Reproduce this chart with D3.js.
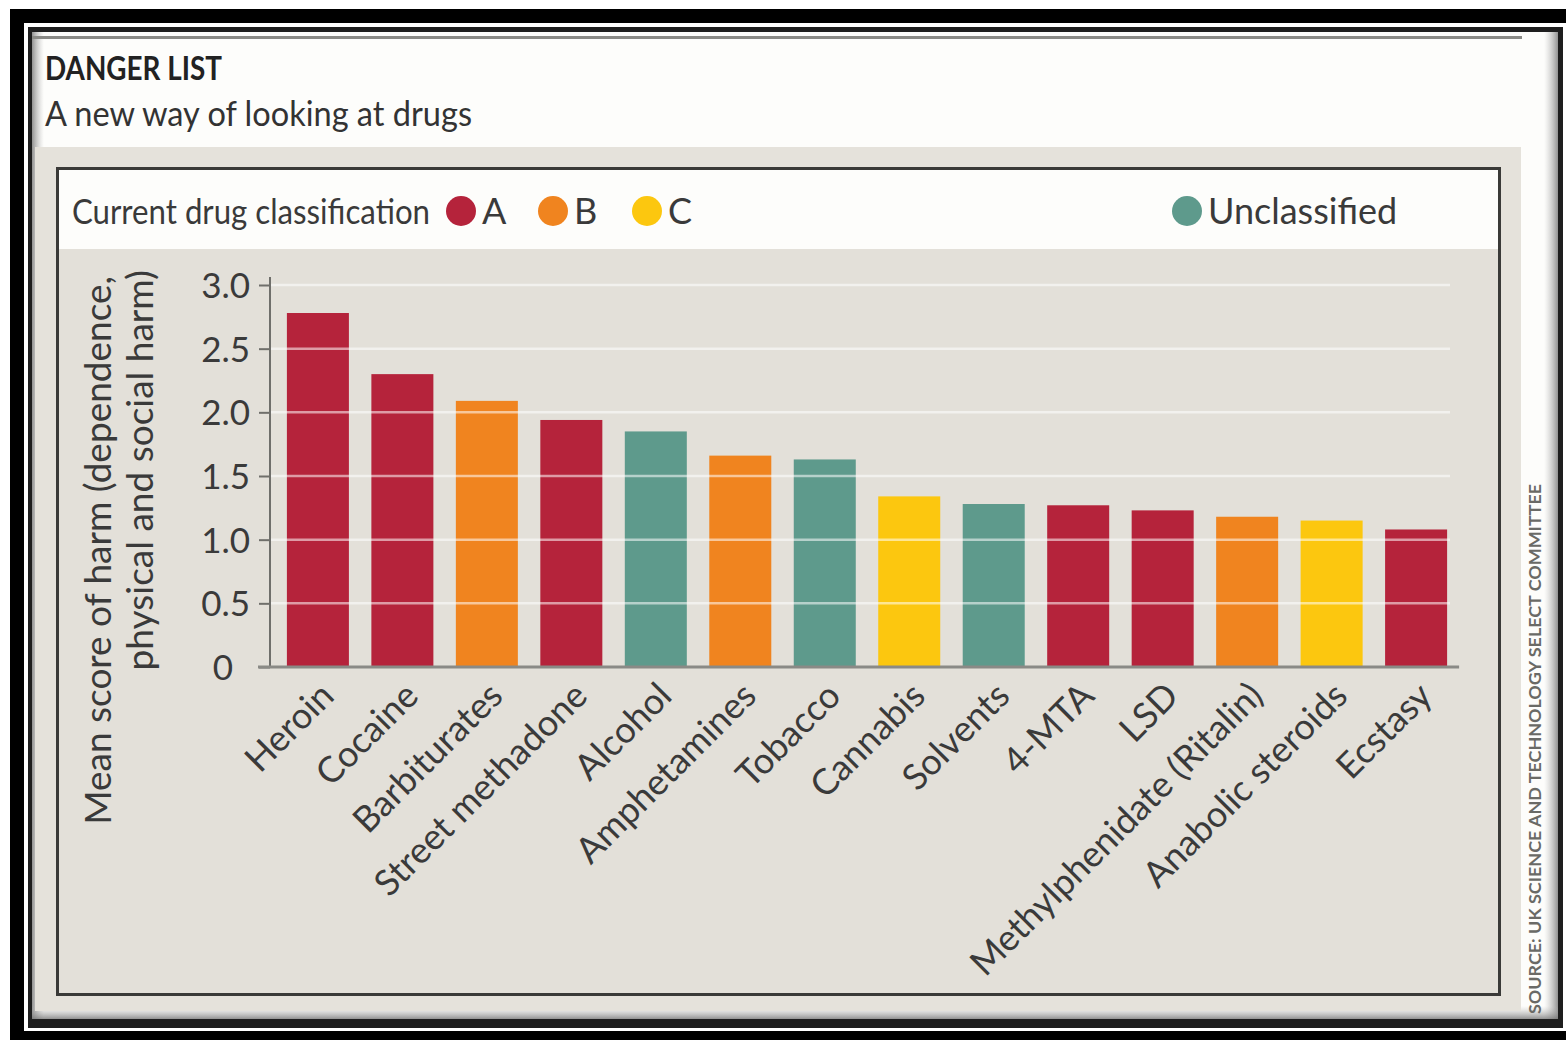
<!DOCTYPE html>
<html>
<head>
<meta charset="utf-8">
<script src="https://cdn.jsdelivr.net/npm/d3@7"></script>
<style>
  body { margin: 0; background: #fff; }
  svg { display: block; }
  text { font-family: Lato, "Open Sans", sans-serif; fill: #383838; }
</style>
</head>
<body>
<svg width="1566" height="1040"></svg>
<script>
// values
var drugs = ["Heroin", "Cocaine", "Barbiturates", "Street methadone", "Alcohol", "Amphetamines",
    "Tobacco", "Cannabis", "Solvents", "4-MTA", "LSD", "Methylphenidate (Ritalin)",
    "Anabolic steroids", "Ecstasy"];
var harm = [2.78, 2.30, 2.09, 1.94, 1.85, 1.66, 1.63, 1.34, 1.28, 1.27, 1.23, 1.18, 1.15, 1.08];
var drugClass = ["A", "A", "B", "A", "U", "B", "U", "C", "U", "A", "A", "B", "C", "A"];
var legendKeys = ["A", "B", "C", "U"];
var legendLabels = ["A", "B", "C", "Unclassified"];
var yTicks = [0, 0.5, 1, 1.5, 2, 2.5, 3];

var color = d3.scaleOrdinal()
    .domain(legendKeys)
    .range(["#b5233b", "#f0841f", "#fcc70f", "#5e9a8c"]);

var svg = d3.select("svg");

// ---- frame and panels ----
svg.append("rect").attr("x", 10).attr("y", 9).attr("width", 1556).attr("height", 1031).attr("fill", "#000");
svg.append("rect").attr("x", 24).attr("y", 23).attr("width", 1542).attr("height", 1008).attr("fill", "#fff");
svg.append("rect").attr("x", 28).attr("y", 27).attr("width", 1535).attr("height", 1001).attr("fill", "#1e1e1e");
svg.append("rect").attr("x", 32).attr("y", 32).attr("width", 1526).attr("height", 987).attr("fill", "#fdfdfb");

var defs = svg.append("defs");
function grad(id, x1, y1, x2, y2) {
    var gr = defs.append("linearGradient").attr("id", id)
        .attr("x1", x1).attr("y1", y1).attr("x2", x2).attr("y2", y2);
    gr.append("stop").attr("offset", "0%").attr("stop-color", "#777").attr("stop-opacity", 0.8);
    gr.append("stop").attr("offset", "100%").attr("stop-color", "#bbb").attr("stop-opacity", 0);
}
grad("shL", "0", "0", "1", "0");
grad("shR", "1", "0", "0", "0");
grad("shB", "0", "1", "0", "0");
svg.append("rect").attr("x", 32).attr("y", 32).attr("width", 12).attr("height", 987).attr("fill", "url(#shL)");
svg.append("rect").attr("x", 1544).attr("y", 32).attr("width", 14).attr("height", 987).attr("fill", "url(#shR)");
svg.append("rect").attr("x", 32).attr("y", 1006).attr("width", 1526).attr("height", 13).attr("fill", "url(#shB)");
svg.append("line").attr("x1", 32).attr("x2", 1522).attr("y1", 37.5).attr("y2", 37.5)
    .attr("stroke", "#8a8a86").attr("stroke-width", 3);

// title
svg.append("text").attr("x", 45).attr("y", 80)
    .attr("font-size", 33).attr("font-weight", "bold").style("fill", "#222")
    .attr("textLength", 177).attr("lengthAdjust", "spacingAndGlyphs")
    .text("DANGER LIST");
svg.append("text").attr("x", 45).attr("y", 126)
    .attr("font-size", 34).style("fill", "#333")
    .attr("textLength", 427).attr("lengthAdjust", "spacingAndGlyphs")
    .text("A new way of looking at drugs");

// grey band and inner frame
svg.append("rect").attr("x", 35).attr("y", 147).attr("width", 1486).attr("height", 864).attr("fill", "#e5e2db");
svg.append("rect").attr("x", 57.5).attr("y", 168.5).attr("width", 1442).attr("height", 826)
    .attr("fill", "#e3e0d9").attr("stroke", "#3a3a38").attr("stroke-width", 3);
svg.append("rect").attr("x", 59).attr("y", 170).attr("width", 1439).attr("height", 79).attr("fill", "#fdfdfb");

// source
svg.append("text")
    .attr("transform", "translate(1541,1014) rotate(-90)")
    .attr("font-size", 17).attr("font-weight", "bold").style("fill", "#6a6a66")
    .attr("textLength", 530).attr("lengthAdjust", "spacingAndGlyphs")
    .text("SOURCE: UK SCIENCE AND TECHNOLOGY SELECT COMMITTEE");

// ---- legend ----
var legend = svg.append("g");
legend.append("text").attr("x", 72).attr("y", 224)
    .attr("font-size", 35).style("fill", "#3a3a3a")
    .attr("textLength", 358).attr("lengthAdjust", "spacingAndGlyphs")
    .text("Current drug classification");
var legendX = [461, 553, 647, 1187];
var legendItem = legend.selectAll(".item")
    .data(legendKeys)
    .enter().append("g")
    .attr("class", "item")
    .attr("transform", function (d, i) { return "translate(" + legendX[i] + ",211)"; });
legendItem.append("circle").attr("r", 15).attr("fill", function (d) { return color(d); });
legendItem.append("text")
    .attr("x", 21).attr("y", 13)
    .attr("font-size", 36).style("fill", "#3a3a3a")
    .text(function (d, i) { return legendLabels[i]; });

// ---- chart ----
var x = d3.scaleBand()
    .domain(drugs)
    .range([270, 1464])
    .paddingInner(0.266)
    .paddingOuter(0.2);

var y = d3.scaleLinear()
    .domain([0, 3])
    .range([667, 285]);

var chart = svg.append("g");

chart.selectAll(".bar")
    .data(harm)
    .enter().append("rect")
    .attr("class", "bar")
    .attr("x", function (d, i) { return x(drugs[i]); })
    .attr("y", function (d) { return y(d); })
    .attr("width", x.bandwidth())
    .attr("height", function (d) { return y(0) - y(d); })
    .attr("fill", function (d, i) { return color(drugClass[i]); });

// gridlines sit over the bars
chart.selectAll(".grid")
    .data(yTicks.slice(1))
    .enter().append("line")
    .attr("class", "grid")
    .attr("x1", 271).attr("x2", 1450)
    .attr("y1", function (d) { return y(d); })
    .attr("y2", function (d) { return y(d); })
    .attr("stroke", "#fff").attr("stroke-opacity", 0.55)
    .attr("stroke-width", 2.5);

var yAxis = chart.append("g")
    .attr("transform", "translate(270,0)")
    .call(d3.axisLeft(y)
        .tickValues(yTicks)
        .tickSize(11)
        .tickPadding(9)
        .tickFormat(function (d) { return d === 0 ? "0" : d3.format(".1f")(d); }));
yAxis.select(".domain").attr("stroke", "#6f6f6b").attr("stroke-width", 2)
    .attr("d", "M0,277V667");
yAxis.selectAll(".tick line").attr("stroke", "#6f6f6b").attr("stroke-width", 2);
yAxis.selectAll(".tick text")
    .attr("font-size", 35)
    .attr("font-family", "Lato, sans-serif")
    .style("fill", "#3a3a3a")
    .attr("dy", "0.36em");
yAxis.selectAll(".tick").filter(function (d) { return d === 0; })
    .select("text").attr("x", -37);

// baseline
chart.append("line")
    .attr("x1", 258).attr("x2", x(drugs[drugs.length - 1]) + x.bandwidth() + 12)
    .attr("y1", y(0)).attr("y2", y(0))
    .attr("stroke", "#8a8a86").attr("stroke-width", 3);

// category labels
chart.selectAll(".xlabel")
    .data(drugs)
    .enter().append("text")
    .attr("class", "xlabel")
    .attr("transform", function (d) {
        return "translate(" + (x(d) + x.bandwidth() / 2 + 18) + ",698) rotate(-45)";
    })
    .attr("text-anchor", "end")
    .attr("font-size", 36)
    .style("fill", "#3a3a3a")
    .text(function (d) { return d; });

// y title
var yTitle = chart.append("text")
    .attr("transform", "translate(111,276) rotate(-90)")
    .attr("text-anchor", "end")
    .attr("font-size", 37)
    .style("fill", "#3a3a3a");
yTitle.append("tspan").attr("x", 0).attr("y", 0).text("Mean score of harm (dependence,");
yTitle.append("tspan").attr("x", 6).attr("y", 42).text("physical and social harm)");
</script>
</body>
</html>
